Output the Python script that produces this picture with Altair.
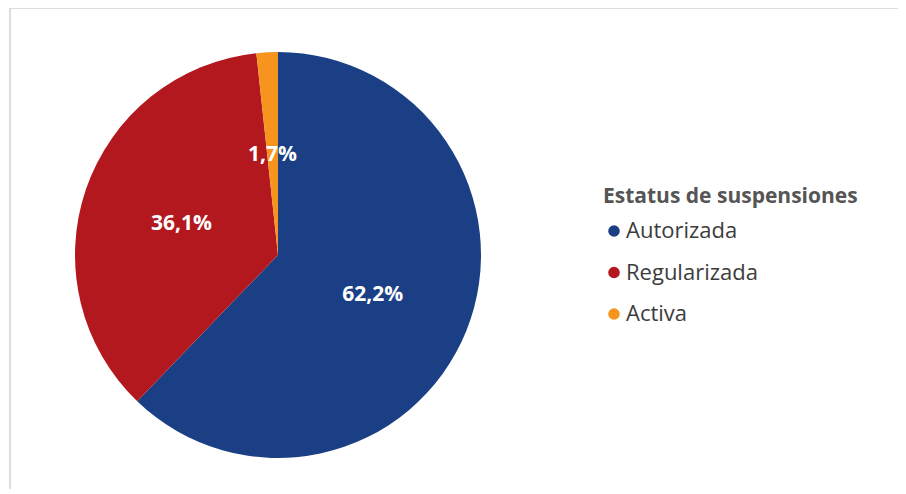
import altair as alt
import pandas as pd

categorias = ["Autorizada", "Regularizada", "Activa"]
valores = [62.2, 36.1, 1.7]
etiquetas = ["62,2%", "36,1%", "1,7%"]
orden = [1, 2, 3]
colores = ["#1b3f85", "#b2181e", "#f7941d"]

df = pd.DataFrame({"estatus": categorias, "valor": valores,
                   "etiqueta": etiquetas, "orden": orden})

W, H = 888, 478
CX, CY = 268, 244

base = alt.Chart(df).encode(
    theta=alt.Theta("valor:Q", stack=True),
    order=alt.Order("orden:Q"),
)

pie = base.mark_arc(radius=203, stroke=None).encode(
    x=alt.value(CX), y=alt.value(CY),
    color=alt.Color(
        "estatus:N",
        scale=alt.Scale(domain=categorias, range=colores),
        sort=categorias,
        legend=alt.Legend(
            title="Estatus de suspensiones",
            orient="none", legendX=593, legendY=175,
            symbolType="circle", symbolSize=135,
            titleFontSize=21, titleFont="Open Sans", titleFontWeight="bold",
            titleColor="#555555", titlePadding=13, titleLimit=500,
            labelFontSize=22, labelFont="Open Sans", labelColor="#3c3c3c",
            labelOffset=1, rowPadding=19.5, symbolStrokeWidth=0, labelLimit=400,
        ),
    ),
)

text = base.mark_text(radius=102, dy=2, font="Open Sans", fontSize=21,
                      fontWeight="bold", color="white").encode(
    x=alt.value(CX), y=alt.value(CY),
    text="etiqueta:N",
)

top_rule = alt.Chart(df).mark_rule(color="#dddddd", strokeWidth=2).encode(
    x=alt.value(0), x2=alt.value(W + 8), y=alt.value(-3))
left_rule = alt.Chart(df).mark_rule(color="#dddddd", strokeWidth=2).encode(
    x=alt.value(0), y=alt.value(-3), y2=alt.value(H + 8))

chart = alt.layer(top_rule, left_rule, pie, text).properties(
    width=W, height=H,
    padding={"left": 2, "top": 3, "right": 0, "bottom": 0},
    autosize=alt.AutoSizeParams(type="none"),
).configure_view(stroke=None)

chart.save("out.html", embed_options={"renderer": "svg", "actions": False})
